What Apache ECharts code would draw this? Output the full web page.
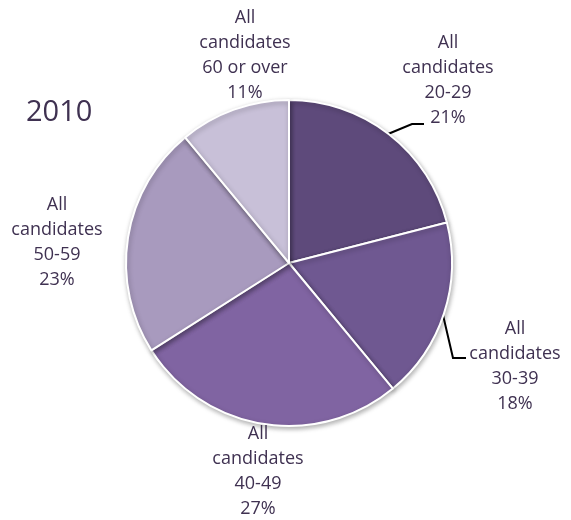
<!DOCTYPE html>
<html lang="en">
<head>
    <meta charset="UTF-8">
    <title>2010</title>
    <style>
        html, body { margin: 0; padding: 0; background: #fff; }
    </style>
</head>
<body>
    <div id="main" style="width: 571px; height: 520px;"></div>

    <script src="https://cdn.jsdelivr.net/npm/echarts@6/dist/echarts.min.js"></script>
    <script>
        // categories and shares (%)
        var groups = ['20-29', '30-39', '40-49', '50-59', '60 or over']
        var shares = [21, 18, 27, 23, 11]
        var colors = ['#5E4A7B', '#6F5891', '#8064A2', '#A89ABE', '#C8C0D8']

        // where each label sits, and leader lines for the two on the right
        var labelSpots = [
            { x: 448, y: 80, line: [[388, 134], [412, 124], [424, 124]] },
            { x: 515, y: 366, line: [[443, 315], [453, 358], [466, 358]] },
            { x: 258, y: 471 },
            { x: 57, y: 242 },
            { x: 245, y: 55 }
        ]

        var myChart = echarts.init(document.getElementById('main'))

        var data = groups.map(function (g, i) {
            return {
                name: g,
                value: shares[i],
                itemStyle: { color: colors[i] },
                labelLine: { show: !!labelSpots[i].line }
            }
        })

        var option = {
            animation: false,
            title: {
                text: '2010',
                left: 21,
                top: 93,
                textStyle: {
                    fontFamily: 'Open Sans',
                    fontSize: 29,
                    fontWeight: 'normal',
                    color: '#3F3151'
                }
            },
            series: [
                {
                    type: 'pie',
                    center: [289, 263],
                    radius: [0, 163],
                    startAngle: 90,
                    clockwise: true,
                    data: data,
                    itemStyle: {
                        borderColor: '#fff',
                        borderWidth: 2,
                        shadowBlur: 5,
                        shadowOffsetX: 1,
                        shadowOffsetY: 2,
                        shadowColor: 'rgba(0,0,0,0.3)'
                    },
                    label: {
                        show: true,
                        position: 'outside',
                        alignTo: 'none',
                        overflow: 'none',
                        formatter: function (p) {
                            return 'All\ncandidates\n' + p.name + '\n' + p.value + '%'
                        },
                        fontFamily: 'Open Sans',
                        fontSize: 18,
                        lineHeight: 25,
                        color: '#3F3151',
                        align: 'center'
                    },
                    labelLine: {
                        lineStyle: { color: '#000', width: 2 }
                    },
                    labelLayout: function (p) {
                        var s = labelSpots[p.dataIndex]
                        var out = {
                            x: s.x,
                            y: s.y,
                            align: 'center',
                            verticalAlign: 'middle'
                        }
                        if (s.line) out.labelLinePoints = s.line
                        return out
                    },
                    emphasis: { disabled: true }
                }
            ]
        }
        myChart.setOption(option)
    </script>
</body>
</html>
